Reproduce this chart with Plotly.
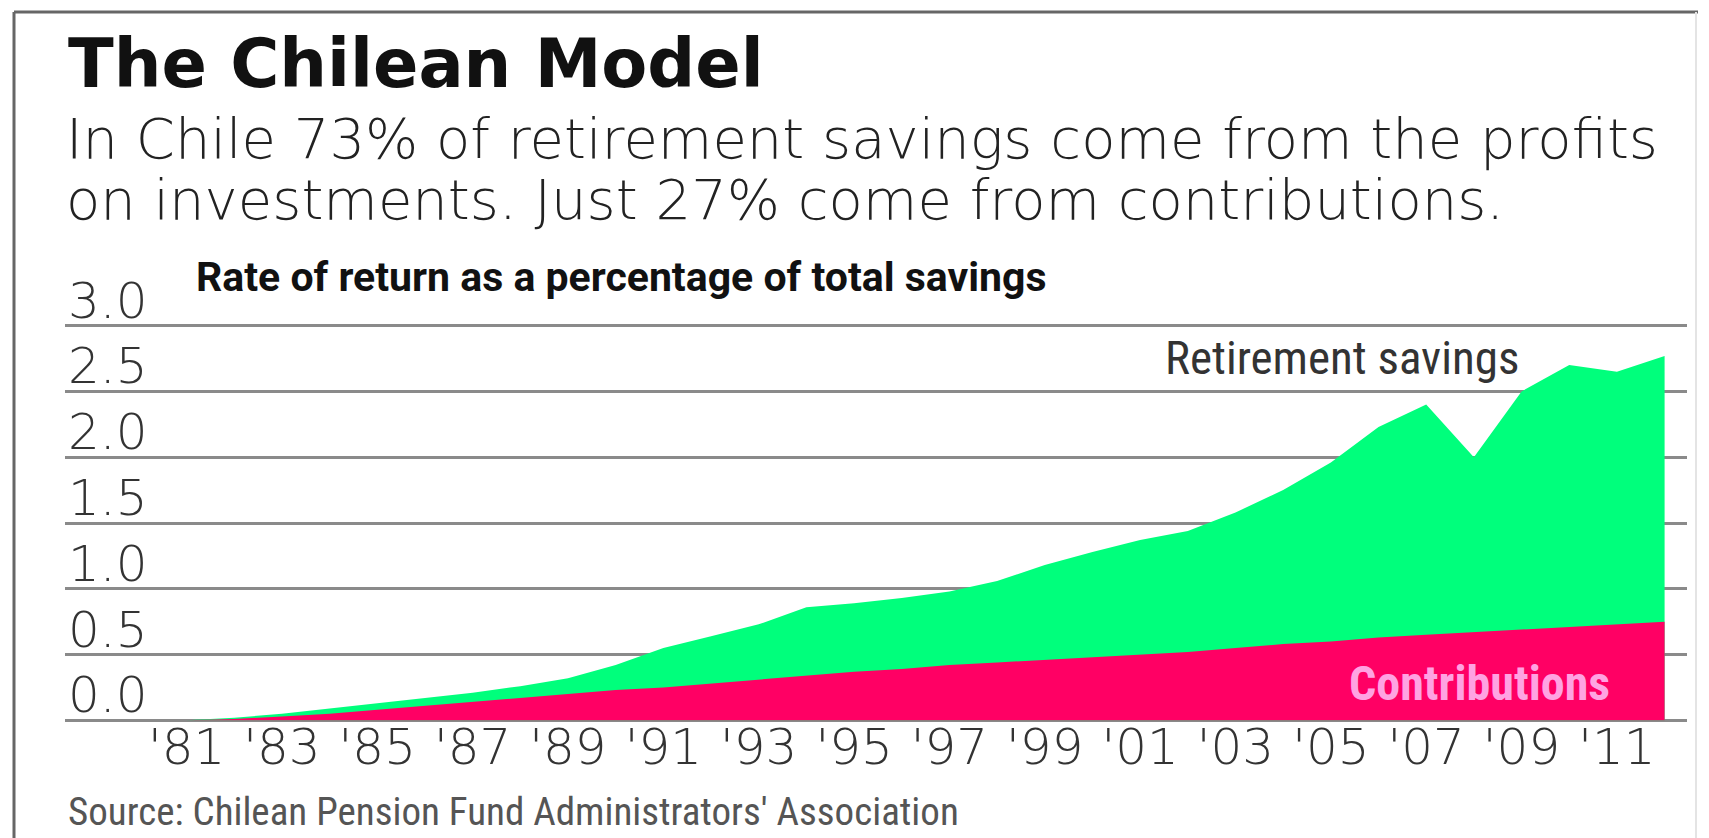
import plotly.graph_objects as go

# ---------------- data ----------------
years = list(range(1981, 2013))
total_savings = [0.00, 0.02, 0.05, 0.09, 0.13, 0.17, 0.21, 0.26, 0.32, 0.42,
                 0.55, 0.64, 0.73, 0.86, 0.89, 0.93, 0.98, 1.06, 1.18, 1.28,
                 1.37, 1.44, 1.58, 1.75, 1.96, 2.23, 2.40, 2.00, 2.50, 2.70,
                 2.65, 2.77]
contributions = [0.00, 0.01, 0.03, 0.05, 0.08, 0.11, 0.14, 0.17, 0.20, 0.23,
                 0.25, 0.28, 0.31, 0.34, 0.37, 0.39, 0.42, 0.44, 0.46, 0.48,
                 0.50, 0.52, 0.55, 0.58, 0.60, 0.63, 0.65, 0.67, 0.69, 0.71,
                 0.73, 0.75]
x_tick_years = list(range(1981, 2012, 2))
x_tick_labels = ["'81", "'83", "'85", "'87", "'89", "'91", "'93", "'95",
                 "'97", "'99", "'01", "'03", "'05", "'07", "'09", "'11"]
y_tick_values = [0.0, 0.5, 1.0, 1.5, 2.0, 2.5, 3.0]
y_tick_labels = ["0.0", "0.5", "1.0", "1.5", "2.0", "2.5", "3.0"]

title_text = "The Chilean Model"
subtitle_1 = "In Chile 73% of retirement savings come from the profits"
subtitle_2 = "on investments. Just 27% come from contributions."
axis_title = "Rate of return as a percentage of total savings"
source_text = "Source: Chilean Pension Fund Administrators' Association"

# ---------------- layout geometry ----------------
W, H = 1709, 838
L, R, T, B = 65, 22, 323, 115
PW, PH = W - L - R, H - T - B


def pxx(x):
    return (x - L) / PW


def pxy(y):
    return (H - B - y) / PH


GREEN = "#00ff7c"
RED = "#ff0064"
GRID = "#8a8a8a"

NARROW = ("Noto Sans ExtraCondensed, Noto Sans Condensed, Liberation Sans Narrow, "
          "Roboto Condensed, DejaVu Sans Condensed, sans-serif")
WIDE = "DejaVu Sans, Verdana, sans-serif"

fig = go.Figure()
fig.add_trace(go.Scatter(x=years, y=total_savings, mode="lines", fill="tozeroy",
                         line=dict(width=0, color=GREEN), fillcolor=GREEN,
                         name="Retirement savings", hoverinfo="x+y"))
fig.add_trace(go.Scatter(x=years, y=contributions, mode="lines", fill="tozeroy",
                         line=dict(width=0, color=RED), fillcolor=RED,
                         name="Contributions", hoverinfo="x+y"))

annotations = []
# y tick labels sit above their grid lines
for v, lab in zip(y_tick_values, y_tick_labels):
    annotations.append(dict(text=lab, xref="paper", yref="y", x=pxx(66), y=v,
                            xanchor="left", yanchor="bottom", yshift=-6,
                            showarrow=False,
                            font=dict(family=WIDE, size=50, color="#333333", weight=200)))

annotations += [
    dict(text="<b>" + title_text + "</b>", xref="paper", yref="paper", x=pxx(66), y=pxy(64),
         xanchor="left", yanchor="middle", showarrow=False,
         font=dict(family=WIDE, size=67, color="#111111")),
    dict(text=subtitle_1, xref="paper", yref="paper", x=pxx(64), y=pxy(138),
         xanchor="left", yanchor="middle", showarrow=False,
         font=dict(family=WIDE, size=56, color="#222222", weight=200)),
    dict(text=subtitle_2, xref="paper", yref="paper", x=pxx(64), y=pxy(200),
         xanchor="left", yanchor="middle", showarrow=False,
         font=dict(family=WIDE, size=56, color="#222222", weight=200)),
    dict(text="<b>" + axis_title + "</b>", xref="paper", yref="paper", x=pxx(194), y=pxy(277),
         xanchor="left", yanchor="middle", showarrow=False,
         font=dict(family="Roboto, sans-serif", size=41, color="#111111")),
    dict(text="Retirement savings", xref="paper", yref="paper", x=pxx(1342), y=pxy(357),
         xanchor="center", yanchor="middle", showarrow=False,
         font=dict(family=NARROW, size=47, color="#333333")),
    dict(text="<b>Contributions</b>", xref="paper", yref="paper", x=pxx(1479), y=pxy(683),
         xanchor="center", yanchor="middle", showarrow=False,
         font=dict(family=NARROW, size=48, color="#ffa3e2")),
    dict(text=source_text, xref="paper", yref="paper", x=pxx(66), y=pxy(812),
         xanchor="left", yanchor="middle", showarrow=False,
         font=dict(family=NARROW, size=39, color="#555555")),
]

shapes = [
    # frame: left and top dark, right faint
    dict(type="line", xref="paper", yref="paper", x0=pxx(14), x1=pxx(14),
         y0=pxy(12), y1=pxy(850), line=dict(color="#666666", width=3)),
    dict(type="line", xref="paper", yref="paper", x0=pxx(14), x1=pxx(1698),
         y0=pxy(12), y1=pxy(12), line=dict(color="#666666", width=3)),
    dict(type="line", xref="paper", yref="paper", x0=pxx(1696), x1=pxx(1696),
         y0=pxy(12), y1=pxy(850), line=dict(color="#e4e4e4", width=2)),
]

fig.update_layout(
    width=W, height=H,
    margin=dict(l=L, r=R, t=T, b=B, pad=0),
    paper_bgcolor="white", plot_bgcolor="white",
    showlegend=False,
    annotations=annotations,
    shapes=shapes,
    xaxis=dict(range=[1978.45, 2012.47], tickvals=x_tick_years, ticktext=x_tick_labels,
               showgrid=False, zeroline=False, showline=False, ticks="",
               tickfont=dict(family=WIDE, size=50, color="#333333", weight=200),
               ticklabelstandoff=-10, fixedrange=True),
    yaxis=dict(range=[-0.02, 3.02], tickvals=y_tick_values, showticklabels=False,
               showgrid=True, gridcolor=GRID, gridwidth=3, zeroline=False,
               showline=False, ticks="", fixedrange=True),
)

fig.write_html("out.html", include_plotlyjs=True,
               config=dict(displayModeBar=False),
               post_script="document.body.style.margin='0';document.body.style.overflow='hidden';")
